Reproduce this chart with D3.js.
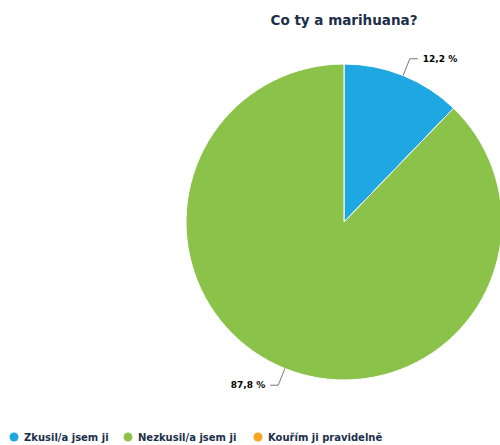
<!DOCTYPE html>
<html><head><meta charset="utf-8">
<script src="https://cdn.jsdelivr.net/npm/d3@7"></script>
<style>body{margin:0;background:#fff}svg{display:block}</style>
</head><body>
<script>
const categories = ["Zkusil/a jsem ji", "Nezkusil/a jsem ji", "Kouřím ji pravidelně"];
const values = [12.2, 87.8, 0];
const colors = ["#1ea7e0", "#8bc34a", "#f6a623"];
const title = "Co ty a marihuana?";

const W = 500, H = 445;
const cx = 344, cy = 222, R = 158;
const svg = d3.select("body").append("svg").attr("width", W).attr("height", H);

svg.append("text").attr("x", cx).attr("y", 25).attr("text-anchor", "middle")
  .attr("font-family", "DejaVu Sans, Verdana, sans-serif").attr("font-weight", "bold")
  .attr("font-size", 13.5).attr("fill", "#1c2f4a").text(title);

const color = d3.scaleOrdinal().domain(categories).range(colors);
const pie = d3.pie().sort(null).value(d => d.v);
const data = pie(categories.map((c, i) => ({c, v: values[i]})));
const arc = d3.arc().innerRadius(0).outerRadius(R);
const g = svg.append("g").attr("transform", `translate(${cx},${cy})`);
g.selectAll("path").data(data).join("path")
  .attr("d", arc).attr("fill", d => color(d.data.c))
  .attr("stroke", "#fff").attr("stroke-width", d => d.data.v > 0 ? 1 : 0);

const fmt = v => v.toFixed(1).replace(".", ",") + " %";
data.filter(d => d.data.v > 0).forEach(d => {
  const a = (d.startAngle + d.endAngle) / 2;
  const p0 = [Math.sin(a) * R, -Math.cos(a) * R];
  const p1 = [Math.sin(a) * (R + 18), -Math.cos(a) * (R + 18)];
  const right = Math.sin(a) >= 0;
  const p2 = [p1[0] + (right ? 8 : -8), p1[1]];
  g.append("path").attr("d", d3.line()([p0, p1, p2]))
    .attr("fill", "none").attr("stroke", "#777").attr("stroke-width", 1);
  g.append("text").attr("x", p2[0] + (right ? 5 : -5)).attr("y", p2[1])
    .attr("dy", "0.35em").attr("text-anchor", right ? "start" : "end")
    .attr("font-family", "DejaVu Sans, Verdana, sans-serif").attr("font-weight", "bold")
    .attr("font-size", 9).attr("fill", "#000").text(fmt(d.data.v));
});

const legX = [14, 128, 258];
const leg = svg.append("g");
categories.forEach((c, i) => {
  leg.append("circle").attr("cx", legX[i]).attr("cy", 437).attr("r", 4.5).attr("fill", color(c));
  leg.append("text").attr("x", legX[i] + 10).attr("y", 437).attr("dy", "0.35em")
    .attr("font-family", "DejaVu Sans, Verdana, sans-serif").attr("font-size", 10)
    .attr("font-weight", 600).attr("fill", "#1c2f4a").text(c);
});
</script>
</body></html>
